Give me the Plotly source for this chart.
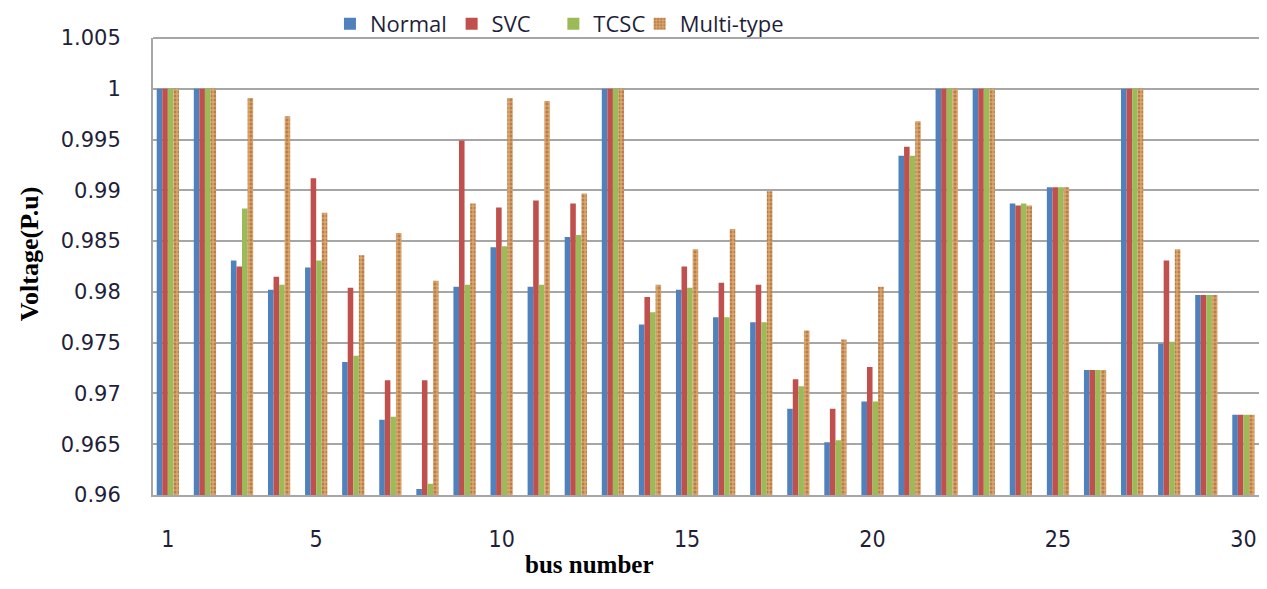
import plotly.graph_objects as go

buses = list(range(1, 31))

normal = [1.0, 1.0, 0.9831, 0.9802, 0.9824, 0.9731, 0.9674, 0.9606, 0.9805, 0.9844,
          0.9805, 0.9854, 1.0, 0.9768, 0.9802, 0.9775, 0.9770, 0.9685, 0.9652, 0.9692,
          0.9934, 1.0, 1.0, 0.9887, 0.9903, 0.9723, 1.0, 0.9749, 0.9797, 0.9679]
svc = [1.0, 1.0, 0.9825, 0.9815, 0.9912, 0.9804, 0.9713, 0.9713, 0.9949, 0.9883,
       0.9890, 0.9887, 1.0, 0.9795, 0.9825, 0.9809, 0.9807, 0.9714, 0.9685, 0.9726,
       0.9943, 1.0, 1.0, 0.9885, 0.9903, 0.9723, 1.0, 0.9831, 0.9797, 0.9679]
tcsc = [1.0, 1.0, 0.9882, 0.9807, 0.9831, 0.9737, 0.9677, 0.9611, 0.9807, 0.9845,
        0.9807, 0.9856, 1.0, 0.9780, 0.9804, 0.9775, 0.9770, 0.9707, 0.9654, 0.9692,
        0.9934, 1.0, 1.0, 0.9887, 0.9903, 0.9723, 1.0, 0.9751, 0.9797, 0.9679]
multi = [1.0, 1.0, 0.9991, 0.9973, 0.9878, 0.9836, 0.9858, 0.9811, 0.9887, 0.9991,
         0.9988, 0.9897, 1.0, 0.9807, 0.9842, 0.9862, 0.9899, 0.9762, 0.9753, 0.9805,
         0.9968, 1.0, 1.0, 0.9885, 0.9903, 0.9723, 1.0, 0.9842, 0.9797, 0.9679]

y_ticks = [0.96, 0.965, 0.97, 0.975, 0.98, 0.985, 0.99, 0.995, 1.0, 1.005]
y_labels = ["0.96", "0.965", "0.97", "0.975", "0.98", "0.985", "0.99", "0.995", "1", "1.005"]
x_ticks = [1, 5, 10, 15, 20, 25, 30]

COLORS = {"Normal": "#4f81bd", "SVC": "#c0504d", "TCSC": "#9bbb59"}
GRID = "#a6a6a6"
TEXT = "#1f1f3a"

fig = go.Figure()
for i, (name, vals) in enumerate([("Normal", normal), ("SVC", svc), ("TCSC", tcsc)]):
    fig.add_trace(go.Bar(x=buses, y=vals, name=name, marker_color=COLORS[name],
                         marker_line_width=0, legend="legend" if i == 0 else f"legend{i + 1}"))
fig.add_trace(go.Bar(
    x=buses, y=multi, name="Multi-type", legend="legend4",
    marker=dict(color="#dda56c", line_width=0,
                pattern=dict(shape=".", fgcolor="#8b5a2b", bgcolor="#dda56c",
                             size=4, solidity=0.45)),
))


def legend_at(x):
    # one legend per series so each entry sits where the original has it
    return dict(orientation="h", x=x, y=1.031, xanchor="left", yanchor="middle",
                font=dict(family="Open Sans", size=22, color=TEXT),
                itemwidth=30, bgcolor="rgba(0,0,0,0)")


# page body has an 8px margin, so the figure is sized to fit inside it
fig.update_layout(
    width=1251, height=573,
    barmode="group", bargap=0.4, bargroupgap=0,
    paper_bgcolor="white", plot_bgcolor="white",
    margin=dict(l=145, r=0, t=30, b=86, autoexpand=False),
    font=dict(family="DejaVu Sans", color=TEXT),
    showlegend=True,
    legend=legend_at(0.160),
    legend2=legend_at(0.270),
    legend3=legend_at(0.362),
    legend4=legend_at(0.440),
    xaxis=dict(range=[0.6, 30.42], tickvals=x_ticks, ticktext=[str(v) for v in x_ticks],
               showgrid=False, zeroline=False, ticks="", automargin=False,
               tickfont=dict(family="Liberation Sans Narrow, DejaVu Sans Condensed, Liberation Sans",
                             size=23, color=TEXT),
               ticklabelstandoff=22, ticklabeloverflow="allow",
               showline=True, linecolor=GRID, linewidth=2),
    yaxis=dict(range=[0.96, 1.005], tickvals=y_ticks, ticktext=y_labels,
               showgrid=True, gridcolor=GRID, gridwidth=1.5, zeroline=False,
               ticks="", ticklabelstandoff=26, automargin=False,
               tickfont=dict(family="DejaVu Sans", size=21, color=TEXT),
               showline=True, linecolor=GRID, linewidth=2, mirror=False),
    shapes=[dict(type="line", xref="paper", yref="paper", x0=0, x1=1, y0=1, y1=1,
                 line=dict(color=GRID, width=2))],
    annotations=[
        dict(text="<b>Voltage(P.u)</b>", xref="paper", yref="paper", x=-0.112, y=0.527,
             xanchor="center", yanchor="middle", textangle=-90, showarrow=False,
             font=dict(family="Liberation Serif", size=26, color="black")),
        dict(text="<b>bus number</b>", xref="paper", yref="paper", x=0.395, y=-0.153,
             xanchor="center", yanchor="middle", showarrow=False,
             font=dict(family="Liberation Serif", size=25, color="black")),
    ],
)

fig.write_html("out.html")
